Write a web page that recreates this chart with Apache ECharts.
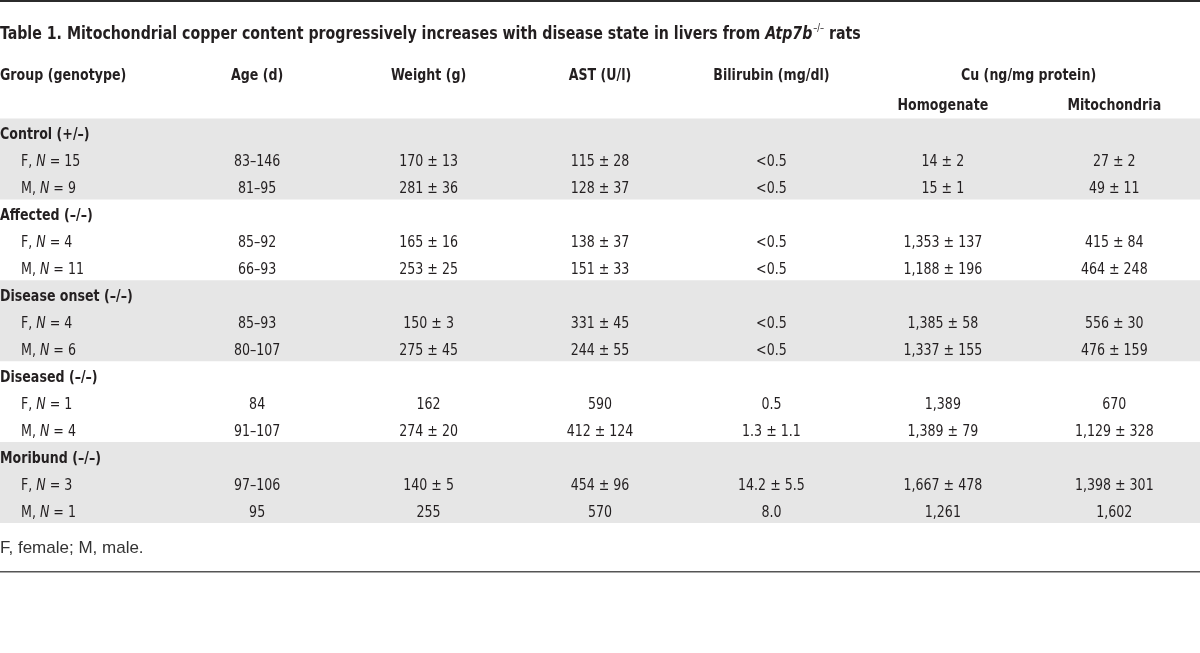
<!DOCTYPE html>
<html><head><meta charset="utf-8">
<script src="https://cdn.jsdelivr.net/npm/echarts@6/dist/echarts.min.js"></script>
<style>html,body{margin:0;padding:0;background:#fff}#c{width:1200px;height:653px}</style>
</head><body><div id="c"></div>
<script>
// ---- data ----
const headerLabels = ['Group (genotype)', 'Age (d)', 'Weight (g)', 'AST (U/l)', 'Bilirubin (mg/dl)'];
const cuHeader = 'Cu (ng/mg protein)';
const subHeaders = ['Homogenate', 'Mitochondria'];
const groups = ['Control (+/–)', 'Affected (–/–)', 'Disease onset (–/–)', 'Diseased (–/–)', 'Moribund (–/–)'];
const sexes = ['F', 'M'];
const nValues = [15, 9, 4, 11, 4, 6, 1, 4, 3, 1];
const age = ['83–146', '81–95', '85–92', '66–93', '85–93', '80–107', '84', '91–107', '97–106', '95'];
const weight = ['170 ± 13', '281 ± 36', '165 ± 16', '253 ± 25', '150 ± 3', '275 ± 45', '162', '274 ± 20', '140 ± 5', '255'];
const ast = ['115 ± 28', '128 ± 37', '138 ± 37', '151 ± 33', '331 ± 45', '244 ± 55', '590', '412 ± 124', '454 ± 96', '570'];
const bilirubin = ['<0.5', '<0.5', '<0.5', '<0.5', '<0.5', '<0.5', '0.5', '1.3 ± 1.1', '14.2 ± 5.5', '8.0'];
const homogenate = ['14 ± 2', '15 ± 1', '1,353 ± 137', '1,188 ± 196', '1,385 ± 58', '1,337 ± 155', '1,389', '1,389 ± 79', '1,667 ± 478', '1,261'];
const mitochondria = ['27 ± 2', '49 ± 11', '415 ± 84', '464 ± 248', '556 ± 30', '476 ± 159', '670', '1,129 ± 328', '1,398 ± 301', '1,602'];
const shadedGroups = [0, 2, 4];
const titleMain = 'Table 1. Mitochondrial copper content progressively increases with disease state in livers from ';
const titleGene = 'Atp7b';
const titleSup = '–/–';
const titleEnd = ' rats';
const footnote = 'F, female; M, male.';

// ---- build cells ----
const FONT = "'Liberation Sans Narrow', 'DejaVu Sans Condensed', 'Roboto Condensed', sans-serif";
const COLOR = '#231f20';
const HEAD_ROW = -2.2, SUB_ROW = -1.1;
const cells = [];
cells.push({x: 0, y: HEAD_ROW, text: headerLabels[0], kind: 'head', align: 'left'});
for (let i = 1; i < headerLabels.length; i++) cells.push({x: i + 0.5, y: HEAD_ROW, text: headerLabels[i], kind: 'head', align: 'center'});
cells.push({x: 6, y: HEAD_ROW, text: cuHeader, kind: 'head', align: 'center'});
subHeaders.forEach((s, i) => cells.push({x: 5.5 + i, y: SUB_ROW, text: s, kind: 'head', align: 'center'}));
const cols = [age, weight, ast, bilirubin, homogenate, mitochondria];
groups.forEach((g, gi) => {
  cells.push({x: 0, y: gi * 3, text: g, kind: 'group', align: 'left'});
  sexes.forEach((s, si) => {
    const r = gi * 2 + si;
    const row = gi * 3 + 1 + si;
    cells.push({x: 0, y: row, text: s + ', {i|N} = ' + nValues[r], kind: 'sub', align: 'left'});
    cols.forEach((arr, ci) => cells.push({x: ci + 1.5, y: row, text: arr[r], kind: 'val', align: 'center'}));
  });
});

const chart = echarts.init(document.getElementById('c'), null, {renderer: 'canvas'});
chart.setOption({
  backgroundColor: '#fff',
  animation: false,
  grid: {left: 0, right: 0, top: 118.5, bottom: 130, containLabel: false},
  xAxis: {type: 'value', min: 0, max: 7, show: false},
  yAxis: {type: 'value', min: -0.5, max: 14.5, inverse: true, show: false},
  graphic: [
    {type: 'rect', shape: {x: 0, y: 0, width: 1200, height: 2}, style: {fill: '#2b2b2b'}},
    {type: 'rect', shape: {x: 0, y: 571, width: 1200, height: 1.5}, style: {fill: '#555'}},
    {type: 'text', x: 0, y: 34, scaleX: 0.9,
      style: {
        text: '{b|' + titleMain + '}{g|' + titleGene + '}{s|' + titleSup + '}{b|' + titleEnd + '}',
        verticalAlign: 'middle',
        rich: {
          b: {fontFamily: FONT, fontSize: 17.5, fontWeight: 'bold', fill: COLOR, lineHeight: 22},
          g: {fontFamily: FONT, fontSize: 17.5, fontWeight: 'bold', fontStyle: 'italic', fill: COLOR, lineHeight: 22},
          s: {fontFamily: FONT, fontSize: 10, fontWeight: 'normal', fill: COLOR, verticalAlign: 'top', lineHeight: 22, padding: [0, 0, 0, 1]}
        }
      }
    },
    {type: 'text', x: 0, y: 548, style: {text: footnote, fontFamily: "'Liberation Sans', Arial, sans-serif", fontSize: 17, fill: '#333', verticalAlign: 'middle'}}
  ],
  series: [
    {
      type: 'custom',
      data: shadedGroups.map(g => [g]),
      renderItem: function (params, api) {
        const g = shadedGroups[params.dataIndex];
        const p0 = api.coord([0, g * 3 - 0.5]);
        const p1 = api.coord([7, g * 3 + 2.5]);
        return {type: 'rect', shape: {x: p0[0], y: p0[1], width: p1[0] - p0[0], height: p1[1] - p0[1]}, style: {fill: '#e6e6e6'}};
      },
      silent: true, z: 1
    },
    {
      type: 'custom',
      clip: false,
      data: cells.map(c => [c.x, c.y]),
      renderItem: function (params, api) {
        const c = cells[params.dataIndex];
        const p = api.coord([c.x, c.y]);
        const heavy = (c.kind === 'head' || c.kind === 'group');
        return {
          type: 'text',
          x: p[0] + (c.kind === 'sub' ? 21 : 0),
          y: p[1] + 3,
          scaleX: 0.85,
          style: {
            text: c.text, fill: COLOR, align: c.align, verticalAlign: 'middle',
            fontFamily: FONT, fontSize: 16.5, fontWeight: heavy ? 'bold' : 'normal',
            rich: {i: {fontFamily: FONT, fontSize: 16.5, fontStyle: 'italic', fill: COLOR}}
          }
        };
      },
      silent: true, z: 2
    }
  ]
});
</script></body></html>
